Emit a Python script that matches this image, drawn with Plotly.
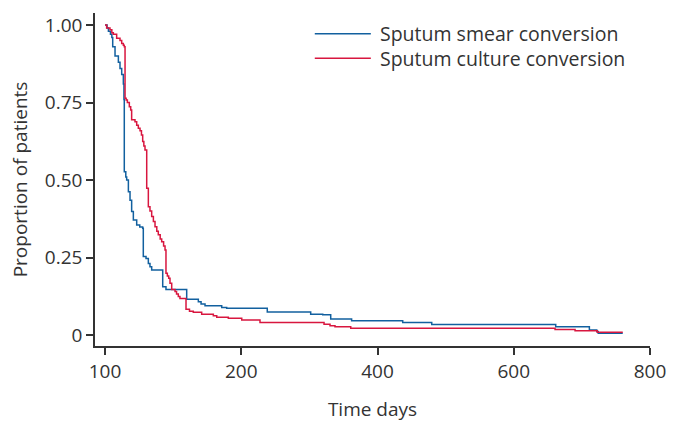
import plotly.graph_objects as go

# Sputum smear conversion (time in days, proportion remaining)
smear_t = [0, 3, 5, 8, 10, 11.3, 14.7, 19.6, 22, 24.5, 26.9, 27.8, 28.3, 30.5, 31.8, 34.3, 36.7,
           39.1, 41.6, 46.5, 51, 55.3, 56.2, 60.2, 63.6, 66, 68.5, 84.7, 89.5, 119.9, 137, 141,
           146.8, 171.3, 178.6, 238.2, 301.9, 319.6, 331.3, 362, 437, 479.6, 661.6, 711, 721.8,
           724, 760]
smear_p = [1.0, 0.99, 0.98, 0.97, 0.96, 0.93, 0.90, 0.88, 0.86, 0.84, 0.81, 0.76, 0.527, 0.51,
           0.50, 0.462, 0.435, 0.398, 0.371, 0.355, 0.348, 0.344, 0.253, 0.247, 0.231, 0.22, 0.21,
           0.156, 0.147, 0.115, 0.107, 0.10, 0.0945, 0.089, 0.086, 0.074, 0.067, 0.065, 0.052,
           0.046, 0.040, 0.034, 0.027, 0.016, 0.011, 0.0055, 0.0055]

# Sputum culture conversion
culture_t = [0, 2.4, 7.3, 10, 12.2, 17.1, 22, 24.5, 26.9, 28.3, 29.4, 31, 32.8, 35.7, 37.7, 39.1,
             44, 46.5, 48.9, 51.4, 53.5, 55.3, 57, 58.7, 61.2, 63.6, 66, 68.5, 71, 73.4, 76, 78.2,
             81, 83.2, 86, 88.1, 89.5, 91.5, 93.5, 95.4, 97.9, 102.8, 105, 107.6, 110, 118.9, 124,
             129.6, 141.9, 159, 164, 181, 200.7, 227.5, 321.5, 330.3, 337.6, 360.7, 660.6, 690,
             722.6, 760]
culture_p = [1.0, 0.99, 0.985, 0.975, 0.97, 0.957, 0.95, 0.94, 0.935, 0.93, 0.764, 0.758, 0.75,
             0.736, 0.726, 0.694, 0.688, 0.677, 0.667, 0.659, 0.645, 0.624, 0.61, 0.597, 0.473,
             0.414, 0.40, 0.382, 0.366, 0.349, 0.335, 0.323, 0.31, 0.301, 0.287, 0.274, 0.199,
             0.19, 0.183, 0.167, 0.147, 0.14, 0.132, 0.124, 0.118, 0.083, 0.077, 0.073, 0.067,
             0.062, 0.057, 0.054, 0.048, 0.040, 0.035, 0.030, 0.027, 0.0215, 0.018, 0.014,
             0.0087, 0.0087]

x_tickvals = [0, 200, 400, 600, 800]
x_ticktext = ["100", "200", "400", "600", "800"]
y_tickvals = [0, 0.25, 0.5, 0.75, 1.0]
y_ticktext = ["0", "0.25", "0.50", "0.75", "1.00"]

names = ["Sputum smear conversion", "Sputum culture conversion"]
colors = ["#12609f", "#d8163f"]

FONT = "Open Sans, Arial, sans-serif"
FS = 19
TXT = "#333333"

fig = go.Figure()
fig.add_trace(go.Scatter(x=smear_t, y=smear_p, mode="lines", line=dict(shape="hv", color=colors[0], width=1.5),
                         name=names[0], showlegend=False))
fig.add_trace(go.Scatter(x=culture_t, y=culture_p, mode="lines", line=dict(shape="hv", color=colors[1], width=1.5),
                         name=names[1], showlegend=False))

# manual legend: line samples + one two-line text block
for i, c in enumerate(colors):
    yy = 0.938 - i * 0.074
    fig.add_shape(type="line", xref="paper", yref="paper", x0=0.396, x1=0.497, y0=yy, y1=yy,
                  line=dict(color=c, width=1.5))
fig.add_annotation(xref="paper", yref="paper", x=0.512, y=0.901, text="<br>".join(names),
                   showarrow=False, xanchor="left", yanchor="middle", align="left", borderpad=0,
                   font=dict(family=FONT, size=19.5, color=TXT))

fig.update_layout(
    width=682, height=422,
    margin=dict(l=95, r=32, t=13, b=76),
    paper_bgcolor="white", plot_bgcolor="white",
    font=dict(family=FONT, size=FS, color=TXT),
    xaxis=dict(range=[-14.7, 800], tickvals=x_tickvals, ticktext=x_ticktext, showgrid=False,
               zeroline=False, showline=True, linecolor="#333333", linewidth=1.5, automargin=False,
               ticks="outside", ticklen=7, tickcolor="#333333", tickwidth=1.5,
               title=dict(text="Time days", standoff=20, font=dict(size=FS))),
    yaxis=dict(range=[-0.0355, 1.0387], tickvals=y_tickvals, ticktext=y_ticktext, showgrid=False,
               zeroline=False, showline=True, linecolor="#333333", linewidth=1.5, automargin=False,
               ticks="outside", ticklen=7, tickcolor="#333333", tickwidth=1.5,
               title=dict(text="Proportion of patients", standoff=12, font=dict(size=FS))),
)

fig.write_html("out.html", config={"displayModeBar": False},
               post_script="document.body.style.margin='0';")
